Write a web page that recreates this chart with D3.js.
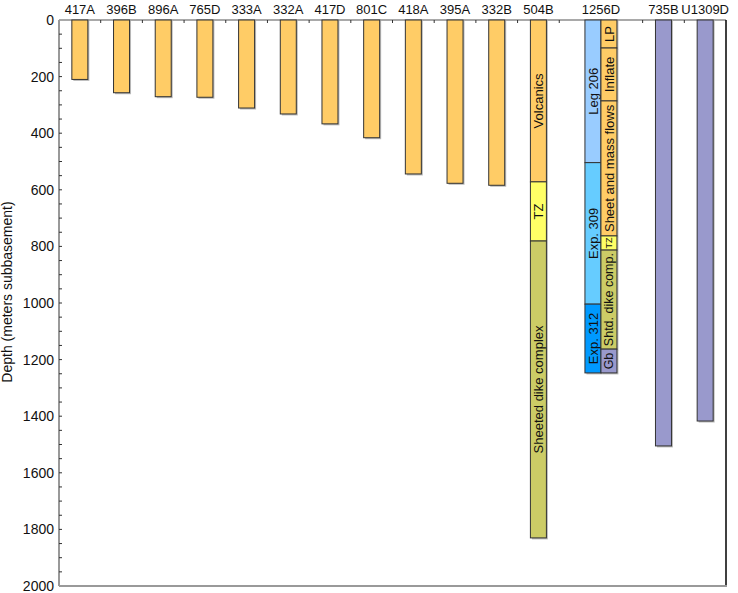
<!DOCTYPE html>
<html><head><meta charset="utf-8">
<script src="https://cdn.jsdelivr.net/npm/d3@7"></script>
<style>body{margin:0;background:#fff;} text{font-family:"Liberation Sans",Arial,Helvetica,sans-serif;}</style>
</head><body>
<svg id="c" width="738" height="593"></svg>
<script>
// simple holes: site and total depth (m subbasement)
const sites = ["417A","396B","896A","765D","333A","332A","417D","801C","418A","395A","332B","504B","1256D","735B","U1309D"];
const simpleSites = ["417A","396B","896A","765D","333A","332A","417D","801C","418A","395A","332B","735B","U1309D"];
const simpleDepths = [210,257,271,273,311,332,367,416,544,577,584,1505,1417];
const simpleColors = ["#FFCC66","#FFCC66","#FFCC66","#FFCC66","#FFCC66","#FFCC66","#FFCC66","#FFCC66","#FFCC66","#FFCC66","#FFCC66","#9999CC","#9999CC"];

// 504B lithology
const b504Labels = ["Volcanics","TZ","Sheeted dike complex"];
const b504Tops = [0,572,781];
const b504Bottoms = [572,781,1830];
const b504Colors = ["#FFCC66","#FFFF66","#CCCC66"];

// 1256D drilling expeditions (left column)
const d1256ExpLabels = ["Leg 206","Exp. 309","Exp. 312"];
const d1256ExpTops = [0,504,1004];
const d1256ExpBottoms = [504,1004,1247];
const d1256ExpColors = ["#99CCFF","#66CCFF","#0099FF"];

// 1256D lithology (right column)
const d1256LithLabels = ["LP","Inflate","Sheet and mass flows","TZ","Shtd. dike comp.","Gb"];
const d1256LithTops = [0,99,286,763,813,1163];
const d1256LithBottoms = [99,286,763,813,1163,1247];
const d1256LithColors = ["#FFCC66","#FFCC66","#FFCC66","#FFFF66","#CCCC66","#9999CC"];
const d1256LithFont = [13,13,13,9,12.5,12.5];

const yTicks = [0,200,400,600,800,1000,1200,1400,1600,1800,2000];

const svg = d3.select("#c");
const L = 59, R = 726, T = 20, B = 586;
const slots = sites.flatMap(s => s === "1256D" ? ["1256D_L","1256D_R"] : [s]);
const x = d3.scaleBand().domain(slots).range([L, R]);
const y = d3.scaleLinear().domain([0, 2000]).range([T, B]);
const bw = 16;

// frame
svg.append("line").attr("x1",L).attr("x2",R).attr("y1",T).attr("y2",T).attr("stroke","#555").attr("stroke-width",1.2);
svg.append("line").attr("x1",R).attr("x2",R).attr("y1",T).attr("y2",B).attr("stroke","#000").attr("stroke-width",1.5);
svg.append("line").attr("x1",L).attr("x2",R+1).attr("y1",B).attr("y2",B).attr("stroke","#999").attr("stroke-width",2);

// top ticks at slot boundaries (except inside 1256D)
const boundaries = slots.slice(1).filter(s => s !== "1256D_R").map(s => x(s));
svg.selectAll(".tt").data(boundaries).enter().append("line")
  .attr("x1",d=>d).attr("x2",d=>d).attr("y1",T).attr("y2",T+3).attr("stroke","#333");

// y axis
svg.append("line").attr("x1",L).attr("x2",L).attr("y1",T).attr("y2",B).attr("stroke","#999").attr("stroke-width",2);
svg.selectAll(".yt").data(d3.range(50,2000,50)).enter().append("line")
  .attr("x1",L).attr("x2",L+3).attr("y1",d=>y(d)).attr("y2",d=>y(d)).attr("stroke","#333");
svg.selectAll(".yl").data(yTicks).enter().append("text")
  .attr("x",L-5).attr("y",d=>y(d)).attr("dy","0.36em").attr("text-anchor","end")
  .attr("font-size",14).attr("fill","#111").text(d=>d);
svg.append("text").attr("transform",`translate(12,292) rotate(-90)`)
  .attr("text-anchor","middle").attr("font-size",14).attr("fill","#111").text("Depth (meters subbasement)");

// site labels
sites.forEach(s => {
  const cx = s === "1256D" ? x("1256D_R") : x(s) + x.bandwidth()/2;
  svg.append("text").attr("x",cx).attr("y",14).attr("text-anchor","middle")
    .attr("font-size",13).attr("fill","#111").text(s);
});

function seg(x0, top, bottom, color, label, fs) {
  svg.append("rect").attr("x",x0+1.5).attr("y",y(top)+1).attr("width",bw).attr("height",y(bottom)-y(top)+0.5)
    .attr("fill","#bbb");
  svg.append("rect").attr("x",x0).attr("y",y(top)).attr("width",bw).attr("height",y(bottom)-y(top))
    .attr("fill",color).attr("stroke","#333").attr("stroke-width",1);
  if (label) {
    const cy = (y(top)+y(bottom))/2;
    svg.append("text").attr("transform",`translate(${x0+bw/2},${cy}) rotate(-90)`)
      .attr("text-anchor","middle").attr("dy","0.36em").attr("font-size",fs||13).attr("fill","#111").text(label);
  }
}

// simple bars
simpleSites.forEach((s,i) => {
  const cx = x(s) + x.bandwidth()/2;
  seg(cx - bw/2, 0, simpleDepths[i], simpleColors[i], null);
});

// 504B
b504Labels.forEach((lab,i) => {
  const cx = x("504B") + x.bandwidth()/2;
  seg(cx - bw/2, b504Tops[i], b504Bottoms[i], b504Colors[i], lab, 13);
});

// 1256D
const mid = x("1256D_R");
d1256ExpLabels.forEach((lab,i) => seg(mid - bw, d1256ExpTops[i], d1256ExpBottoms[i], d1256ExpColors[i], lab, 13));
d1256LithLabels.forEach((lab,i) => seg(mid, d1256LithTops[i], d1256LithBottoms[i], d1256LithColors[i], lab, d1256LithFont[i]));
</script>
</body></html>
